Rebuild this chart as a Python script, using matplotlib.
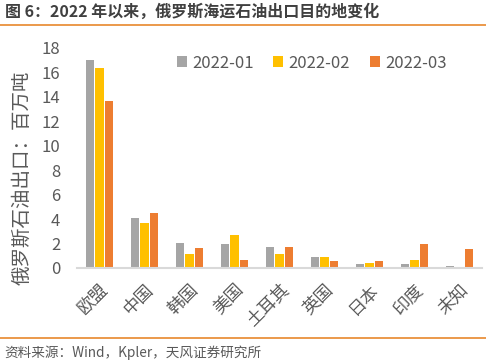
import numpy as np
import matplotlib.pyplot as plt
from matplotlib.lines import Line2D

plt.rcParams['font.family'] = ['Noto Sans CJK SC', 'DejaVu Sans']

# ---------------------------------------------------------------------------
# Data (million tonnes)
# ---------------------------------------------------------------------------
regions = ["欧盟", "中国", "韩国", "美国", "土耳其", "英国", "日本", "印度", "未知"]
jan = [17.0, 4.12, 2.02, 1.96, 1.69, 0.87, 0.33, 0.30, 0.16]
feb = [16.4, 3.71, 1.15, 2.70, 1.15, 0.87, 0.41, 0.65, 0.12]
mar = [13.65, 4.53, 1.61, 0.65, 1.69, 0.57, 0.55, 1.99, 1.58]
series_names = ["2022-01", "2022-02", "2022-03"]

COLORS = ["#A5A5A5", "#FFC000", "#ED7D31"]
TEXT = "#595959"
ORANGE_LINE = "#E8872C"

W, H = 486, 363
fig = plt.figure(figsize=(W / 100, H / 100), dpi=100)
ax = fig.add_axes([77 / W, 1 - 268 / H, 405 / W, 220 / H])

x = np.arange(len(regions))
width = 0.178
offset = 0.222
for i, (vals, color, name) in enumerate(zip([jan, feb, mar], COLORS, series_names)):
    ax.bar(x + (i - 1) * offset, vals, width=width, color=color, label=name, zorder=2)

ax.set_xlim(-0.5, len(regions) - 0.5)
ax.set_ylim(0, 18)
ax.set_yticks(np.arange(0, 19, 2))
ax.tick_params(axis="y", length=0, labelsize=12, labelcolor=TEXT, pad=12)
ax.tick_params(axis="x", length=0, labelsize=12.5, labelcolor=TEXT, pad=9)
ax.set_xticks(x)
ax.set_xticklabels(regions, rotation=45, ha="right", rotation_mode="anchor")

for side in ["top", "right", "left"]:
    ax.spines[side].set_visible(False)
ax.spines["bottom"].set_color("#D9D9D9")
ax.spines["bottom"].set_linewidth(1.5)

ax.set_ylabel("俄罗斯石油出口：百万吨", fontsize=14, color=TEXT)
ax.yaxis.set_label_coords(-0.111, 0.41)

leg = ax.legend(loc="upper left", bbox_to_anchor=(0.23, 1.0), ncol=3, frameon=False,
                fontsize=12, handlelength=0.6, handleheight=0.6, handletextpad=0.3,
                columnspacing=1.2, borderaxespad=0.0)
for t in leg.get_texts():
    t.set_color(TEXT)

# header / footer
fig.text(5 / W, 1 - 12 / H, "图 6：2022 年以来，俄罗斯海运石油出口目的地变化",
         fontsize=11.5, fontweight="bold", color="#404040", va="center", ha="left")
fig.add_artist(Line2D([0, 1], [1 - 25 / H, 1 - 25 / H], color=ORANGE_LINE, lw=1.2))
fig.add_artist(Line2D([0, 1], [1 - 338 / H, 1 - 338 / H], color=ORANGE_LINE, lw=1.2))
fig.text(4 / W, 1 - 353 / H, "资料来源：Wind，Kpler，天风证券研究所",
         fontsize=9.8, color=TEXT, va="center", ha="left")

fig.savefig("out.png", dpi=100)
